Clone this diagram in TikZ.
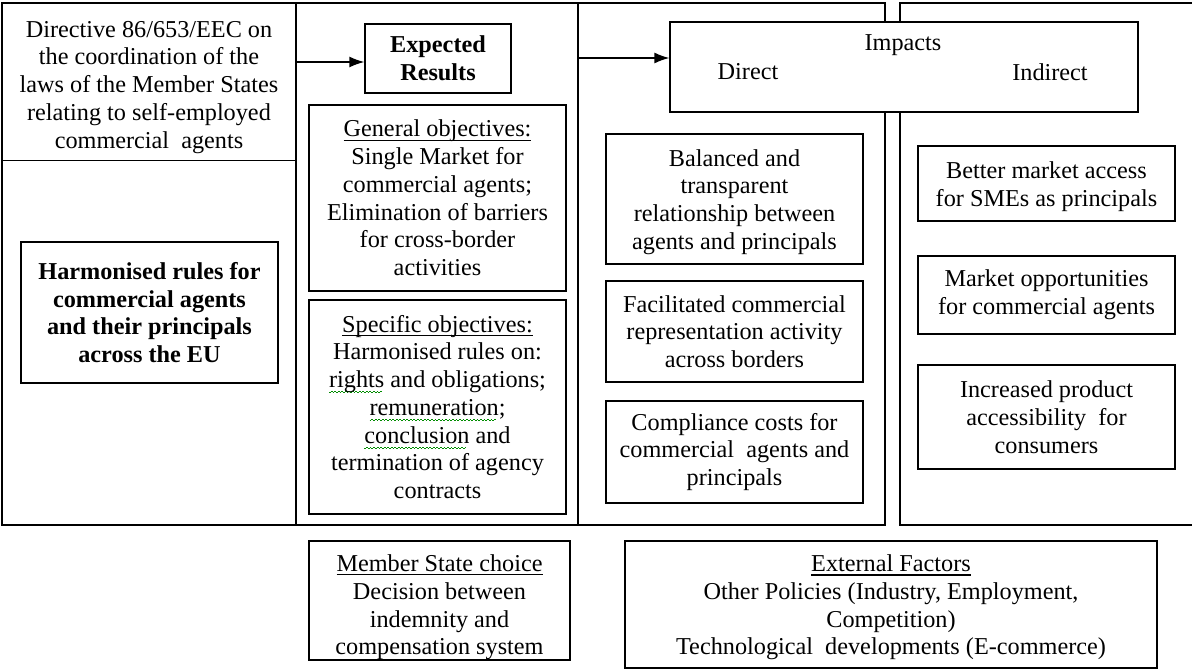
\documentclass[tikz,border=0pt]{standalone}
\usepackage{fontspec}
\setmainfont{Liberation Serif}
\usetikzlibrary{arrows.meta}

% underline close to the baseline
\newcommand\ulword[1]{\leavevmode\setbox0\hbox{#1}%
  \rlap{\rule[-2.2pt]{\wd0}{0.6pt}}\box0{}}
% green spell-check squiggle under a word
\newcommand\spellwave[1]{\leavevmode\setbox0\hbox{#1}%
  \rlap{\textcolor{green!55!black}{\hbox to \wd0{\leaders\hbox to 2pt{\rule[-3.2pt]{1pt}{0.45pt}\rule[-2.6pt]{1pt}{0.45pt}}\hfill}}}\box0{}}

\begin{document}
\begin{tikzpicture}[x=0.02cm, y=-0.02cm, font=\fontsize{13.8}{15.8}\selectfont, line width=0.8pt]
    \tikzset{ colframe/.style={draw, inner sep=0pt, minimum height=10.44cm},
              box/.style={draw, fill=white, inner sep=0pt, align=center, minimum width=5.14cm},
              lbl/.style={inner sep=0pt},
              arrow/.style={-{Latex[length=3mm, width=2.2mm]}} }
    \useasboundingbox (0,0) rectangle (1192,671);

    % columns
    \node[colframe, minimum width=5.88cm] (inputcol) at (149, 264) {};
    \node[colframe, minimum width=5.64cm] (resultcol) at (437, 264) {};
    \node[colframe, minimum width=6.14cm] (directcol) at (731.5, 264) {};
    \node[colframe, minimum width=6.30cm] (indirectcol) at (1057.5, 264) {};

    % input column
    \node[box, minimum width=5.88cm, minimum height=3.14cm] (directive) at (149, 82)
      {\rule{0pt}{15pt}Directive 86/653/EEC on\\the coordination of the\\laws of the Member States\\relating to self-employed\\commercial\ \ agents};
    \node[box, minimum height=2.82cm, font=\fontsize{13.8}{15.8}\selectfont\bfseries] (harmonised) at (149.5, 312.5)
      {Harmonised rules for\\commercial agents\\and their principals\\across the EU};

    % expected results column
    \node[box, minimum width=2.92cm, minimum height=1.38cm, font=\fontsize{13.8}{15.8}\selectfont\bfseries] (results) at (438, 58.5)
      {Expected\\Results};
    \node[box, minimum height=3.72cm] (general) at (437.5, 198)
      {\ulword{General objectives:}\\Single Market for\\commercial agents;\\Elimination of barriers\\for cross-border\\activities};
    \node[box, minimum height=4.28cm] (specific) at (437.5, 407)
      {\ulword{Specific objectives:}\\Harmonised rules on:\\\spellwave{rights} and obligations;\\\spellwave{remuneration};\\\spellwave{conclusion} and\\termination of agency\\contracts};

    % impacts
    \node[box, minimum width=9.36cm, minimum height=1.8cm] (impacts) at (904, 67) {};
    \node[lbl] (impactslbl) at (903, 45) {Impacts};
    \node[lbl] (directlbl) at (748, 72) {Direct};
    \node[lbl] (indirectlbl) at (1050, 72) {Indirect};

    % direct impacts
    \node[box, minimum height=2.6cm] (balanced) at (734.5, 199)
      {\rule{0pt}{13pt}Balanced and\\transparent\\relationship between\\agents and principals};
    \node[box, minimum height=2.02cm] (facilitated) at (734.5, 331.5)
      {Facilitated commercial\\representation activity\\across borders};
    \node[box, minimum height=2.04cm] (compliance) at (734.5, 452)
      {Compliance costs for\\commercial\ \ agents and\\principals};

    % indirect impacts
    \node[box, minimum height=1.5cm] (access) at (1046.5, 183.5)
      {\rule{0pt}{13pt}Better market access\\for SMEs as principals};
    \node[box, minimum height=1.56cm] (opportunities) at (1046.5, 295)
      {Market opportunities\\for commercial agents};
    \node[box, minimum height=2.08cm] (accessibility) at (1046.5, 417)
      {Increased product\\accessibility\ \ for\\consumers};

    % factors below
    \node[box, minimum width=5.22cm, minimum height=2.38cm] (choice) at (439.5, 600.5)
      {\rule{0pt}{17.5pt}\ulword{Member State choice}\\Decision between\\indemnity and\\compensation system};
    \node[box, minimum width=10.64cm, minimum height=2.54cm] (external) at (891, 604.5)
      {\rule{0pt}{13pt}\ulword{External Factors}\\Other Policies (Industry, Employment,\\Competition)\\Technological\ \ developments (E-commerce)};

    % arrows
    \coordinate (resin) at ([yshift=-0.07cm]results.west);
    \draw[arrow] (inputcol.east |- resin) -- (resin);
    \coordinate (impin) at ([yshift=0.18cm]impacts.west);
    \draw[arrow] (resultcol.east |- impin) -- (impin);
\end{tikzpicture}
\end{document}
